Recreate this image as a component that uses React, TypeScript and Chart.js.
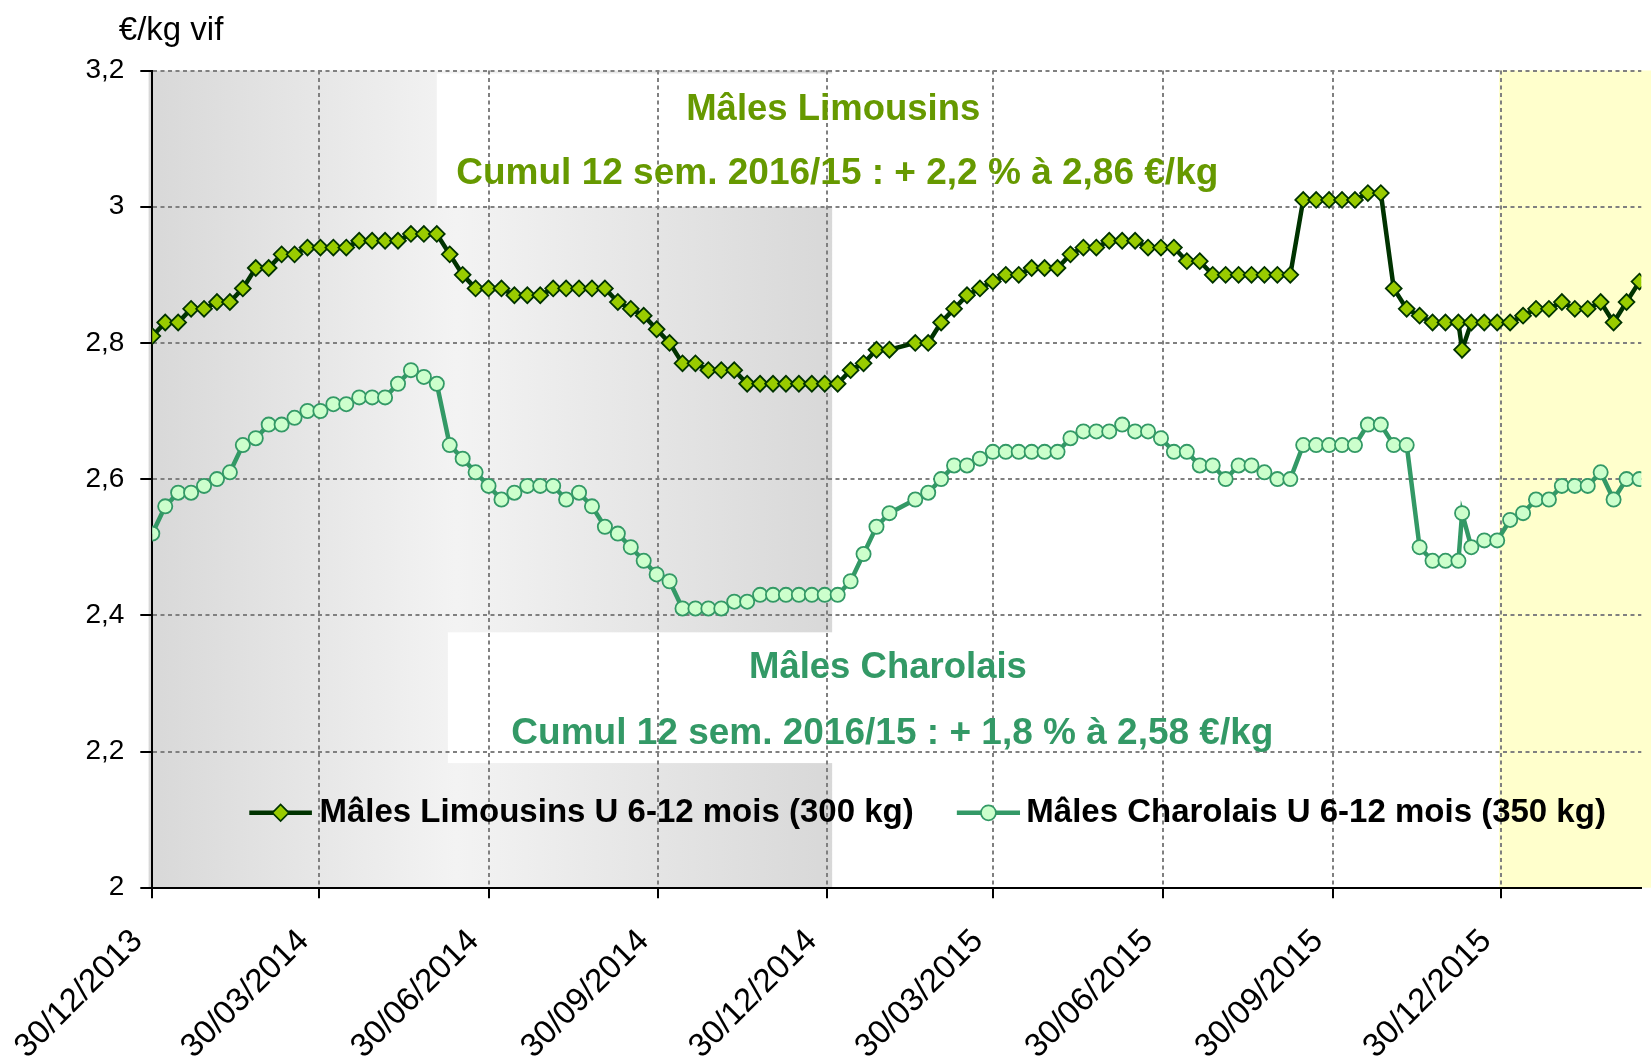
import React, { useEffect, useRef } from 'react';
import { Chart, registerables } from 'chart.js';

Chart.register(...registerables);

// ---------- DATA ----------
const BASE_DATE = '30/12/2013';

// quarter tick labels of the date axis
const X_TICK_DATES = [
  '30/12/2013', '30/03/2014', '30/06/2014', '30/09/2014', '30/12/2014',
  '30/03/2015', '30/06/2015', '30/09/2015', '30/12/2015',
];

// day offsets (from BASE_DATE) of each weekly quotation
const POINT_DAYS = [
  0, 7, 14, 21, 28, 35, 42, 49, 56, 63,
  70, 77, 84, 91, 98, 105, 112, 119, 126, 133,
  140, 147, 154, 161, 168, 175, 182, 189, 196, 203,
  210, 217, 224, 231, 238, 245, 252, 259, 266, 273,
  280, 287, 294, 301, 308, 315, 322, 329, 336, 343,
  350, 357, 364, 371, 378, 385, 392, 399,
  413, 420, 427, 434, 441, 448, 455, 462, 469, 476,
  483, 490, 497, 504, 511, 518, 525, 532, 539, 546,
  553, 560, 567, 574, 581, 588, 595, 602, 609, 616,
  623, 630, 637, 644, 651, 658, 665, 672, 679, 686,
  693, 700, 707, 709,
  714, 721, 728, 735, 742, 749, 756, 763, 770, 777, 784, 791, 798, 805,
];

const LIMOUSIN = [
  2.81, 2.83, 2.83, 2.85, 2.85, 2.86, 2.86, 2.88, 2.91, 2.91,
  2.93, 2.93, 2.94, 2.94, 2.94, 2.94, 2.95, 2.95, 2.95, 2.95,
  2.96, 2.96, 2.96, 2.93, 2.90, 2.88, 2.88, 2.88, 2.87, 2.87,
  2.87, 2.88, 2.88, 2.88, 2.88, 2.88, 2.86, 2.85, 2.84, 2.82,
  2.80, 2.77, 2.77, 2.76, 2.76, 2.76, 2.74, 2.74, 2.74, 2.74,
  2.74, 2.74, 2.74, 2.74, 2.76, 2.77, 2.79, 2.79,
  2.80, 2.80, 2.83, 2.85, 2.87, 2.88, 2.89, 2.90, 2.90, 2.91,
  2.91, 2.91, 2.93, 2.94, 2.94, 2.95, 2.95, 2.95, 2.94, 2.94,
  2.94, 2.92, 2.92, 2.90, 2.90, 2.90, 2.90, 2.90, 2.90, 2.90,
  3.01, 3.01, 3.01, 3.01, 3.01, 3.02, 3.02, 2.88, 2.85, 2.84,
  2.83, 2.83, 2.83, 2.79,
  2.83, 2.83, 2.83, 2.83, 2.84, 2.85, 2.85, 2.86, 2.85, 2.85, 2.86, 2.83, 2.86, 2.89,
];

const CHAROLAIS = [
  2.52, 2.56, 2.58, 2.58, 2.59, 2.60, 2.61, 2.65, 2.66, 2.68,
  2.68, 2.69, 2.70, 2.70, 2.71, 2.71, 2.72, 2.72, 2.72, 2.74,
  2.76, 2.75, 2.74, 2.65, 2.63, 2.61, 2.59, 2.57, 2.58, 2.59,
  2.59, 2.59, 2.57, 2.58, 2.56, 2.53, 2.52, 2.50, 2.48, 2.46,
  2.45, 2.41, 2.41, 2.41, 2.41, 2.42, 2.42, 2.43, 2.43, 2.43,
  2.43, 2.43, 2.43, 2.43, 2.45, 2.49, 2.53, 2.55,
  2.57, 2.58, 2.60, 2.62, 2.62, 2.63, 2.64, 2.64, 2.64, 2.64,
  2.64, 2.64, 2.66, 2.67, 2.67, 2.67, 2.68, 2.67, 2.67, 2.66,
  2.64, 2.64, 2.62, 2.62, 2.60, 2.62, 2.62, 2.61, 2.60, 2.60,
  2.65, 2.65, 2.65, 2.65, 2.65, 2.68, 2.68, 2.65, 2.65, 2.50,
  2.48, 2.48, 2.48, 2.55,
  2.50, 2.51, 2.51, 2.54, 2.55, 2.57, 2.57, 2.59, 2.59, 2.59, 2.61, 2.57, 2.60, 2.60,
];

const SERIES_NAMES = [
  'Mâles Limousins U 6-12 mois (300 kg)',
  'Mâles Charolais U 6-12 mois (350 kg)',
];

const Y_TITLE = '€/kg vif';
const Y_MIN = 2;
const Y_MAX = 3.2;
const Y_STEP = 0.2;
const X_MAX_DAY = 806;

const ANNOTATION_TEXTS = [
  'Mâles Limousins',
  'Cumul 12 sem. 2016/15 : + 2,2 % à 2,86 €/kg',
  'Mâles Charolais',
  'Cumul 12 sem. 2016/15 : + 1,8 % à 2,58 €/kg',
];

// ---------- helpers ----------
function parseDMY(s: string): number {
  const [d, m, y] = s.split('/').map(Number);
  return Date.UTC(y, m - 1, d);
}
const BASE_MS = parseDMY(BASE_DATE);
function dayOffset(s: string): number {
  return Math.round((parseDMY(s) - BASE_MS) / 86400000);
}
function pad2(n: number) {
  return n < 10 ? '0' + n : String(n);
}
function dayLabel(day: number): string {
  const dt = new Date(BASE_MS + day * 86400000);
  return pad2(dt.getUTCDate()) + '/' + pad2(dt.getUTCMonth() + 1) + '/' + dt.getUTCFullYear();
}
function frNumber(v: number): string {
  const r = Math.round(v * 10) / 10;
  return (Number.isInteger(r) ? String(r) : r.toFixed(1)).replace('.', ',');
}

// ---------- styles ----------
const FONT = '"Liberation Sans", Arial, sans-serif';
const LIM_LINE = '#003300';
const LIM_FILL = '#99cc00';
const CHA_LINE = '#339966';
const CHA_FILL = '#ccffcc';
const LIM_TEXT = '#669900';
const CHA_TEXT = '#339966';
const GRID = '#808080';

// background zones (x in days, y in €/kg)
const ZONES = {
  gray: { x0: -2, x1: 368 },
  yellow: { x0: 729 },
  whiteTop: { x0: 154, x1: 590, y0: 3.0, y1: 3.1956 },
  whiteBottom: { x0: 160, x1: 590, y0: 2.183, y1: 2.375 },
};

// annotation anchors (x in days, y in €/kg)
const ANNOT_POS = [
  { day: 368.6, val: 3.1424, size: 36.5, color: LIM_TEXT },
  { day: 370.8, val: 3.0489, size: 37, color: LIM_TEXT },
  { day: 398.2, val: 2.3227, size: 36.5, color: CHA_TEXT },
  { day: 400.6, val: 2.2262, size: 37, color: CHA_TEXT },
];

const LEGEND_VAL = 2.11;
const LEGEND_POS = [
  { x0: 52.5, x1: 86.4, tx: 90.5 },
  { x0: 435.5, x1: 469.7, tx: 473.1 },
];

const DIAMOND_R = 7.9;
const CIRCLE_R = 7.1;

function drawDiamond(ctx: CanvasRenderingContext2D, cx: number, cy: number, r: number) {
  ctx.beginPath();
  ctx.moveTo(cx - r, cy);
  ctx.lineTo(cx, cy - r);
  ctx.lineTo(cx + r, cy);
  ctx.lineTo(cx, cy + r);
  ctx.closePath();
}

const backgroundPlugin = {
  id: 'zonesBackground',
  beforeDraw(chart: any) {
    const { ctx, scales } = chart;
    const xs = scales.x;
    const ys = scales.y;
    const X = (d: number) => xs.getPixelForValue(d);
    const Y = (v: number) => ys.getPixelForValue(v);
    const top = Y(Y_MAX);
    const bottom = Y(Y_MIN);
    ctx.save();
    const g0 = X(ZONES.gray.x0);
    const g1 = X(ZONES.gray.x1);
    const grad = ctx.createLinearGradient(g0, 0, g1, 0);
    grad.addColorStop(0, '#d8d8d8');
    grad.addColorStop(0.45, '#f3f3f3');
    grad.addColorStop(1, '#d8d8d8');
    ctx.fillStyle = grad;
    ctx.fillRect(g0, top, g1 - g0, bottom - top);
    const y0 = X(ZONES.yellow.x0);
    ctx.fillStyle = '#ffffcc';
    ctx.fillRect(y0, top, chart.width - y0, bottom - top);
    ctx.fillStyle = '#ffffff';
    for (const b of [ZONES.whiteTop, ZONES.whiteBottom]) {
      const bx0 = X(b.x0);
      const bx1 = X(b.x1);
      const by0 = Y(b.y1);
      const by1 = Y(b.y0);
      ctx.fillRect(bx0, by0, bx1 - bx0, by1 - by0);
    }
    ctx.restore();
  },
};

const overlayPlugin = {
  id: 'overlayTexts',
  afterDraw(chart: any) {
    const { ctx, scales, chartArea } = chart;
    const xs = scales.x;
    const ys = scales.y;
    const X = (d: number) => xs.getPixelForValue(d);
    const Y = (v: number) => ys.getPixelForValue(v);
    ctx.save();
    // y-axis title
    ctx.font = `33px ${FONT}`;
    ctx.fillStyle = '#000';
    ctx.textAlign = 'left';
    ctx.textBaseline = 'alphabetic';
    ctx.fillText(Y_TITLE, chartArea.left - 33.5, chartArea.top - 31);

    // annotations
    ctx.textAlign = 'center';
    ctx.textBaseline = 'middle';
    ANNOTATION_TEXTS.forEach((t, i) => {
      const p = ANNOT_POS[i];
      ctx.font = `bold ${p.size}px ${FONT}`;
      ctx.fillStyle = p.color;
      ctx.fillText(t, X(p.day), Y(p.val));
    });

    // legend
    const ly = Y(LEGEND_VAL);
    SERIES_NAMES.forEach((name, i) => {
      const p = LEGEND_POS[i];
      const lx0 = X(p.x0);
      const lx1 = X(p.x1);
      const cx = (lx0 + lx1) / 2;
      ctx.beginPath();
      ctx.moveTo(lx0, ly);
      ctx.lineTo(lx1, ly);
      ctx.lineWidth = 4.5;
      ctx.strokeStyle = i === 0 ? LIM_LINE : CHA_LINE;
      ctx.stroke();
      if (i === 0) {
        drawDiamond(ctx, cx, ly, 8.3);
        ctx.fillStyle = LIM_FILL;
        ctx.fill();
        ctx.lineWidth = 1.7;
        ctx.strokeStyle = LIM_LINE;
        ctx.stroke();
      } else {
        ctx.beginPath();
        ctx.arc(cx, ly, 7.5, 0, Math.PI * 2);
        ctx.fillStyle = CHA_FILL;
        ctx.fill();
        ctx.lineWidth = 1.7;
        ctx.strokeStyle = CHA_LINE;
        ctx.stroke();
      }
      ctx.font = `bold 33px ${FONT}`;
      ctx.fillStyle = '#000';
      ctx.textAlign = 'left';
      ctx.textBaseline = 'middle';
      ctx.fillText(name, X(p.tx), ly);
    });
    ctx.restore();
  },
};

export default function App() {
  const canvasRef = useRef<HTMLCanvasElement | null>(null);

  useEffect(() => {
    const canvas = canvasRef.current;
    if (!canvas) return;

    const limData = POINT_DAYS.map((d, i) => ({ x: d, y: LIMOUSIN[i] }));
    const chaData = POINT_DAYS.map((d, i) => ({ x: d, y: CHAROLAIS[i] }));

    const chart = new Chart(canvas, {
      type: 'line',
      data: {
        datasets: [
          {
            label: SERIES_NAMES[0],
            data: limData,
            borderColor: LIM_LINE,
            borderWidth: 4.5,
            pointStyle: 'rectRot',
            pointRadius: DIAMOND_R,
            pointBackgroundColor: LIM_FILL,
            pointBorderColor: LIM_LINE,
            pointBorderWidth: 1.8,
            tension: 0,
            fill: false,
          },
          {
            label: SERIES_NAMES[1],
            data: chaData,
            borderColor: CHA_LINE,
            borderWidth: 4.5,
            pointStyle: 'circle',
            pointRadius: CIRCLE_R,
            pointBackgroundColor: CHA_FILL,
            pointBorderColor: CHA_LINE,
            pointBorderWidth: 1.8,
            tension: 0,
            fill: false,
          },
        ],
      },
      options: {
        responsive: false,
        maintainAspectRatio: false,
        animation: false,
        devicePixelRatio: 1,
        events: [],
        layout: { padding: { top: 70.5, left: 0, right: 0, bottom: 0 } },
        plugins: {
          legend: { display: false },
          tooltip: { enabled: false },
          title: { display: false },
        },
        scales: {
          x: {
            type: 'linear',
            min: 0,
            max: X_MAX_DAY,
            afterBuildTicks: (s: any) => {
              s.ticks = X_TICK_DATES.map((t) => ({ value: dayOffset(t) }));
            },
            afterFit: (s: any) => {
              s.height = 169.3;
            },
            grid: {
              color: GRID,
              lineWidth: 2,
              drawTicks: true,
              tickLength: 10.5,
              tickColor: '#000',
              tickWidth: 2,
              tickBorderDash: [],
            },
            border: { display: true, color: '#000', width: 2, dash: [4, 3.5] },
            ticks: {
              autoSkip: false,
              minRotation: 45,
              maxRotation: 45,
              labelOffset: -14.7,
              padding: 23.7,
              color: '#000',
              font: { family: FONT, size: 33 },
              callback: (v: any) => dayLabel(Number(v)),
            },
          },
          y: {
            type: 'linear',
            min: Y_MIN,
            max: Y_MAX,
            afterFit: (s: any) => {
              s.width = 152.3;
            },
            grid: {
              color: GRID,
              lineWidth: 2,
              drawTicks: true,
              tickLength: 12,
              tickColor: '#000',
              tickWidth: 2,
              tickBorderDash: [],
            },
            border: { display: true, color: '#000', width: 2, dash: [4, 3.5] },
            ticks: {
              stepSize: Y_STEP,
              padding: 16,
              color: '#000',
              font: { family: FONT, size: 28 },
              callback: (v: any) => frNumber(Number(v)),
            },
          },
        },
      } as any,
      plugins: [backgroundPlugin, overlayPlugin],
    });

    return () => {
      chart.destroy();
    };
  }, []);

  return (
    <div style={{ position: 'absolute', left: 0, top: 0, width: 1651, height: 1057, background: '#fff' }}>
      <canvas
        ref={canvasRef}
        width={1651}
        height={1057}
        style={{ display: 'block', width: 1651, height: 1057 }}
      />
    </div>
  );
}
